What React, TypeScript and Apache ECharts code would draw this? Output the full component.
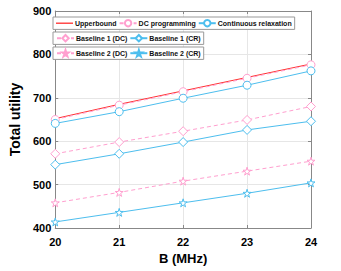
import React, { useEffect, useRef } from "react";
import * as echarts from "echarts";

const bandwidth = [20, 21, 22, 23, 24];
const upperbound = [652, 685, 716, 747, 778];
const dcProgramming = [650, 683, 714, 745, 776];
const contRelaxation = [641, 668, 699, 729, 762];
const baseline1DC = [571, 598, 623, 649, 680];
const baseline1CR = [546, 571, 598, 626, 646];
const baseline2DC = [458, 482, 508, 531, 554];
const baseline2CR = [414, 436, 458, 480, 504];

const RED = "#ff3030";
const PINK = "#ff9fcf";
const BLUE = "#4dbeee";
const STAR = "path://M50,0 L61,35 L98,35 L68,57 L79,91 L50,70 L21,91 L32,57 L2,35 L39,35 Z";
const FONT = "'Liberation Sans', Arial, sans-serif";

export default function App() {
  const ref = useRef<HTMLDivElement>(null);
  useEffect(() => {
    document.body.style.margin = "0";
    if (!ref.current) return;
    const chart = echarts.init(ref.current, null, { renderer: "svg" });
    const mk = (name: string, data: number[], color: string, dashed: boolean, symbol: string, size = 8) => ({
      name,
      type: "line",
      xAxisIndex: 0,
      yAxisIndex: 0,
      data: bandwidth.map((b, i) => [b, data[i]]),
      symbol,
      symbolSize: size,
      showSymbol: symbol !== "none",
      lineStyle: { color, width: 1, type: dashed ? [4, 3] : "solid" },
      itemStyle: { color: "#fff", borderColor: color, borderWidth: 1 },
      z: 3,
    });
    const legendBase = {
      orient: "horizontal",
      borderColor: "#999",
      borderWidth: 1,
      backgroundColor: "#fff",
      itemWidth: 17,
      itemHeight: 8,
      itemGap: 2,
      padding: [2, 3, 2, 3],
      textStyle: { fontSize: 7, fontWeight: "bold", fontFamily: FONT, color: "#111", padding: [0, 0, 0, -3] },
    };
    chart.setOption({
      animation: false,
      backgroundColor: "#fff",
      grid: { left: 49, top: 11, width: 262, height: 217, containLabel: false },
      legend: [
        {
          ...legendBase,
          left: 53,
          top: 17,
          data: [
            { name: "Upperbound", icon: "path://M0,0 L18,0 L18,1.4 L0,1.4 Z", itemStyle: { color: RED, borderWidth: 0 } },
            "DC programming",
            "Continuous relaxation",
          ],
        },
        { ...legendBase, left: 53, top: 32, data: ["Baseline 1 (DC)", "Baseline 1 (CR)"] },
        { ...legendBase, left: 53, top: 47, data: ["Baseline 2 (DC)", "Baseline 2 (CR)"] },
      ],
      xAxis: [
        {
          type: "value",
          min: 20,
          max: 24,
          interval: 1,
          name: "B (MHz)",
          nameLocation: "middle",
          nameGap: 24,
          nameTextStyle: { fontSize: 13, fontWeight: "bold", fontFamily: FONT, color: "#000" },
          axisLine: { show: true, lineStyle: { color: "#888" } },
          axisTick: { show: true, inside: true, length: 3, lineStyle: { color: "#888" } },
          axisLabel: { fontSize: 11, fontWeight: "bold", fontFamily: FONT, color: "#000", margin: 8 },
          splitLine: { show: true, lineStyle: { color: "#e6e6e6" } },
        },
        {
          type: "value",
          position: "top",
          min: 20,
          max: 24,
          interval: 1,
          axisLine: { show: true, lineStyle: { color: "#888" } },
          axisTick: { show: true, inside: true, length: 3, lineStyle: { color: "#888" } },
          axisLabel: { show: false },
          splitLine: { show: false },
        },
      ],
      yAxis: [
        {
          type: "value",
          min: 400,
          max: 900,
          interval: 100,
          name: "Total utility",
          nameLocation: "middle",
          nameGap: 28,
          nameTextStyle: { fontSize: 14, fontWeight: "bold", fontFamily: FONT, color: "#000" },
          axisLine: { show: true, lineStyle: { color: "#888" } },
          axisTick: { show: true, inside: true, length: 3, lineStyle: { color: "#888" } },
          axisLabel: { fontSize: 11, fontWeight: "bold", fontFamily: FONT, color: "#000", margin: 4 },
          splitLine: { show: true, lineStyle: { color: "#e6e6e6" } },
        },
        {
          type: "value",
          position: "right",
          min: 400,
          max: 900,
          interval: 100,
          axisLine: { show: true, lineStyle: { color: "#888" } },
          axisTick: { show: true, inside: true, length: 3, lineStyle: { color: "#888" } },
          axisLabel: { show: false },
          splitLine: { show: false },
        },
      ],
      series: [
        mk("Upperbound", upperbound, RED, false, "none"),
        mk("DC programming", dcProgramming, PINK, true, "circle"),
        mk("Continuous relaxation", contRelaxation, BLUE, false, "circle"),
        mk("Baseline 1 (DC)", baseline1DC, PINK, true, "diamond", 9),
        mk("Baseline 1 (CR)", baseline1CR, BLUE, false, "diamond", 9),
        mk("Baseline 2 (DC)", baseline2DC, PINK, true, STAR, 8),
        mk("Baseline 2 (CR)", baseline2CR, BLUE, false, STAR, 8),
      ],
    });
    return () => chart.dispose();
  }, []);
  return <div ref={ref} style={{ width: 341, height: 271 }} />;
}
